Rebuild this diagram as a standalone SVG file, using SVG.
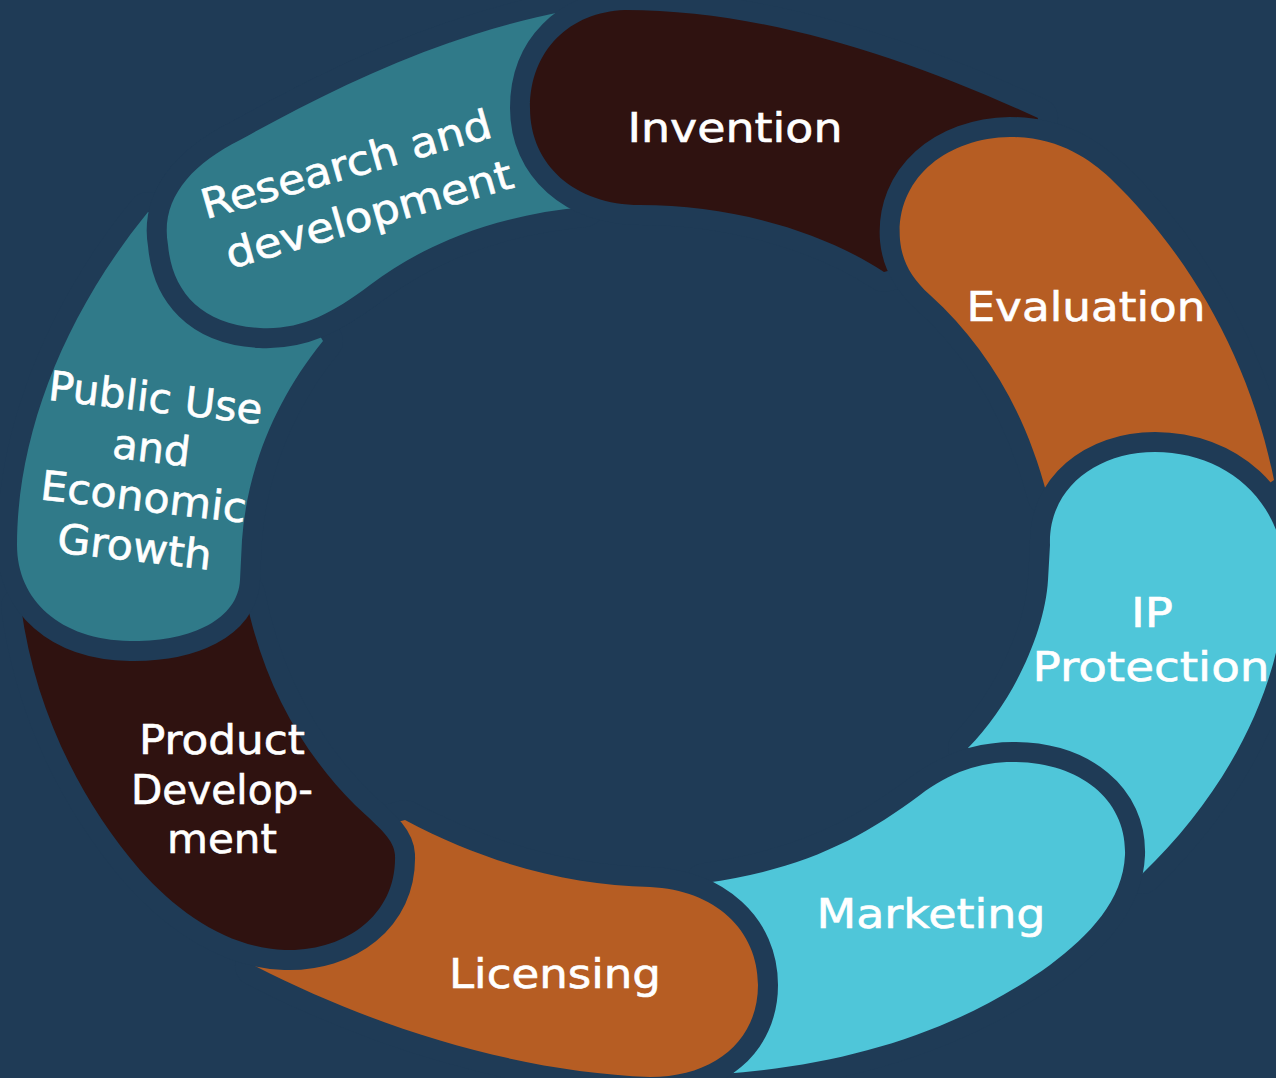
<svg xmlns="http://www.w3.org/2000/svg" xmlns:xlink="http://www.w3.org/1999/xlink" width="1276" height="1078" viewBox="0 0 1276 1078">
<defs>
<style>
.seg{stroke:#1f3b56;stroke-width:40;stroke-linejoin:round;paint-order:stroke}
.teal{fill:#307a89}.brown{fill:#2f1210}.orange{fill:#b65d23}.cyan{fill:#4fc6d9}
.lbl{font-family:"DejaVu Sans","Liberation Sans",sans-serif;font-size:41px;font-weight:normal;fill:#ffffff;stroke:#ffffff;stroke-width:0.6;text-anchor:middle}
</style>
<clipPath id="clipR"><rect x="0" y="0" width="450" height="450"/></clipPath>
</defs>
<rect width="1276" height="1078" fill="#1f3b56"/>
<g id="research">
<path id="p-research" class="seg teal" d="M168,245 C160,200 190,165 240,140 C330,90 440,35 566,11 L625,107 L584,207 C500,215 430,240 370,285 C330,315 300,330 260,328 C200,325 172,290 168,245 Z"/>
</g>
<g id="invention">
<path class="seg brown" d="M530,108 C530,50 570,12 625,10 C760,10 900,55 1038,118 L1000,240 L884,272 C820,230 730,205 640,205 C575,205 530,165 530,108 Z"/>
</g>
<g id="evaluation">
<path class="seg orange" d="M900,240 C895,180 945,138 1010,137 C1060,137 1090,160 1110,178 C1190,255 1250,360 1274,480 L1160,560 L1047,495 C1025,410 985,345 930,295 C910,277 902,260 900,240 Z"/>
</g>
<g id="ip-protection">
<path class="seg cyan" d="M1050,545 C1048,490 1095,452 1155,452 C1225,452 1285,500 1285,580 C1285,680 1230,790 1142,874 L1020,860 L968,748 C1015,700 1045,630 1048,580 Z"/>
</g>
<g id="marketing">
<path class="seg cyan" d="M1013,762 C1080,762 1127,800 1125,855 C1123,900 1090,935 1050,965 C960,1030 850,1065 722,1074 L660,985 L705,883 C800,870 860,840 920,795 C950,772 980,762 1013,762 Z"/>
</g>
<g id="licensing">
<path class="seg orange" d="M650,887 C715,890 758,930 758,985 C758,1040 715,1077 650,1077 C520,1072 380,1030 255,966 L290,850 L405,820 C490,865 570,885 650,887 Z"/>
</g>
<g id="product-development">
<path class="seg brown" d="M395,855 C397,915 345,952 285,950 C230,948 180,915 140,870 C80,800 35,710 21,607 L130,540 L245,594 C262,680 300,750 355,805 C382,830 394,840 395,855 Z"/>
</g>
<g id="public-use">
<path class="seg teal" d="M240,580 C238,620 190,642 130,641 C60,640 17,600 17,545 C17,440 60,320 148,212 L265,245 L323,341 C275,400 247,470 242,540 Z"/>
</g>
<use xlink:href="#p-research" clip-path="url(#clipR)"/>
<g id="labels">
<text class="lbl" x="350" y="178" textLength="300" lengthAdjust="spacingAndGlyphs" transform="rotate(-16 350 178)">Research and</text>
<text class="lbl" x="373" y="228" textLength="297" lengthAdjust="spacingAndGlyphs" transform="rotate(-16 373 228)">development</text>
<text class="lbl" x="735" y="142" textLength="215" lengthAdjust="spacingAndGlyphs">Invention</text>
<text class="lbl" x="1086" y="321" textLength="239" lengthAdjust="spacingAndGlyphs">Evaluation</text>
<text class="lbl" x="1152" y="627" textLength="42" lengthAdjust="spacingAndGlyphs">IP</text>
<text class="lbl" x="1151" y="681" textLength="237" lengthAdjust="spacingAndGlyphs">Protection</text>
<text class="lbl" x="931" y="928" textLength="229" lengthAdjust="spacingAndGlyphs">Marketing</text>
<text class="lbl" x="555" y="988" textLength="212" lengthAdjust="spacingAndGlyphs">Licensing</text>
<text class="lbl" x="222" y="754" textLength="166" lengthAdjust="spacingAndGlyphs">Product</text>
<text class="lbl" x="222" y="804" textLength="182" lengthAdjust="spacingAndGlyphs">Develop-</text>
<text class="lbl" x="222" y="853" textLength="110" lengthAdjust="spacingAndGlyphs">ment</text>
<text class="lbl" x="154" y="412" textLength="215" lengthAdjust="spacingAndGlyphs" transform="rotate(6.5 154 412)">Public Use</text>
<text class="lbl" x="150" y="462" textLength="78" lengthAdjust="spacingAndGlyphs" transform="rotate(6.5 150 462)">and</text>
<text class="lbl" x="142" y="511" textLength="207" lengthAdjust="spacingAndGlyphs" transform="rotate(6.5 142 511)">Economic</text>
<text class="lbl" x="133" y="561" textLength="155" lengthAdjust="spacingAndGlyphs" transform="rotate(6.5 133 561)">Growth</text>
</g>
</svg>
